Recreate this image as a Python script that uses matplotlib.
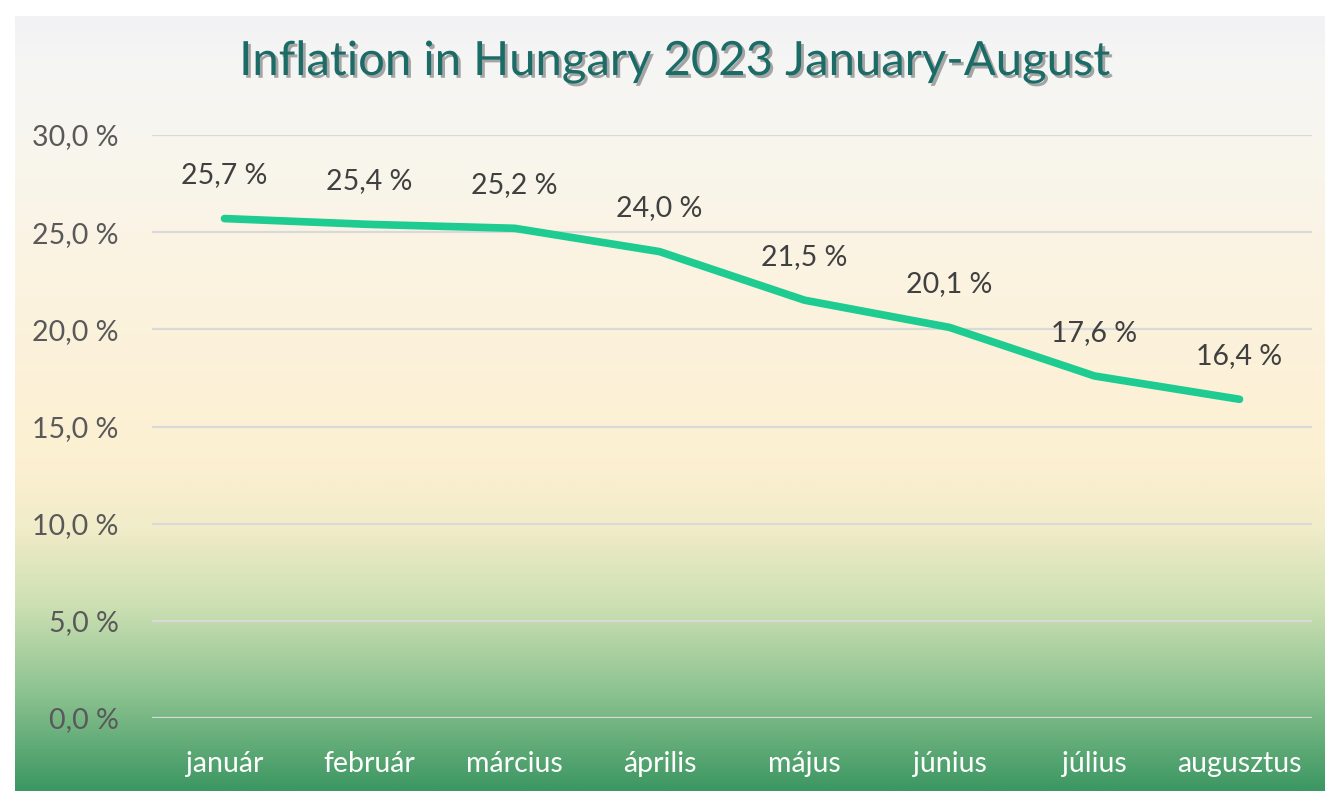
import numpy as np
import matplotlib.pyplot as plt
import matplotlib.patheffects as pe
from matplotlib.colors import LinearSegmentedColormap

# Havi infláció 2023
months = ["január", "február", "március", "április", "május", "június", "július", "augusztus"]
inflation = [25.7, 25.4, 25.2, 24.0, 21.5, 20.1, 17.6, 16.4]
yticks = [0, 5, 10, 15, 20, 25, 30]

plt.rcParams['font.family'] = ['Lato', 'DejaVu Sans']

fig = plt.figure(figsize=(13.25, 7.95), dpi=100)
fig.patch.set_facecolor('white')

# background gradient of the chart frame
bg = fig.add_axes([15 / 1325, 0.005, 1 - 15 / 1325, 1 - 20 / 795], zorder=0)
stops = [(0.0, '#f2f2f4'), (0.05, '#f5f5f5'), (0.15, '#f8f6ef'), (0.33, '#fbf3e1'),
         (0.57, '#fdf0d2'), (0.66, '#f1ecc9'), (0.76, '#cde0b3'), (0.87, '#8fc492'),
         (1.0, '#3c9762')]
cmap = LinearSegmentedColormap.from_list('bg', stops)
grad = np.linspace(0, 1, 512).reshape(-1, 1)
bg.imshow(grad, aspect='auto', cmap=cmap, extent=[0, 1, 0, 1], origin='upper')
bg.set_axis_off()

ax = fig.add_axes([152 / 1325, 1 - 718 / 795, 1160 / 1325, 583 / 795], zorder=1)
ax.patch.set_alpha(0)
x = np.arange(len(months))
ax.plot(x, inflation, color='#1ecb90', linewidth=5.5, solid_capstyle='round', zorder=3)

for xi, v in zip(x, inflation):
    ax.annotate(f"{v:.1f} %".replace('.', ','), (xi, v), xytext=(0, 31),
                textcoords='offset points', ha='center', va='center',
                fontsize=20.5, color='#404040')

ax.set_xlim(-0.5, len(months) - 0.5)
ax.set_ylim(0, 30)
ax.set_yticks(yticks)
ax.set_yticklabels([f"{t:.1f} %".replace('.', ',') for t in yticks])
ax.set_xticks(x)
ax.set_xticklabels(months)
ax.grid(axis='y', color='#d9d9d9', linewidth=1.6)
ax.set_axisbelow(True)
for s in ax.spines.values():
    s.set_visible(False)
ax.tick_params(axis='both', length=0)
ax.tick_params(axis='y', labelsize=20.5, labelcolor='#595959', pad=24)
ax.tick_params(axis='x', labelsize=20.5, labelcolor='white', pad=24)

fig.text(0.51, 0.922, "Inflation in Hungary 2023 January-August", ha='center', va='center',
         fontsize=34, color='#1b6b66',
         path_effects=[pe.withSimplePatchShadow(offset=(2, -2), shadow_rgbFace='#555555', alpha=0.5)])

fig.savefig('out.png', dpi=100)
